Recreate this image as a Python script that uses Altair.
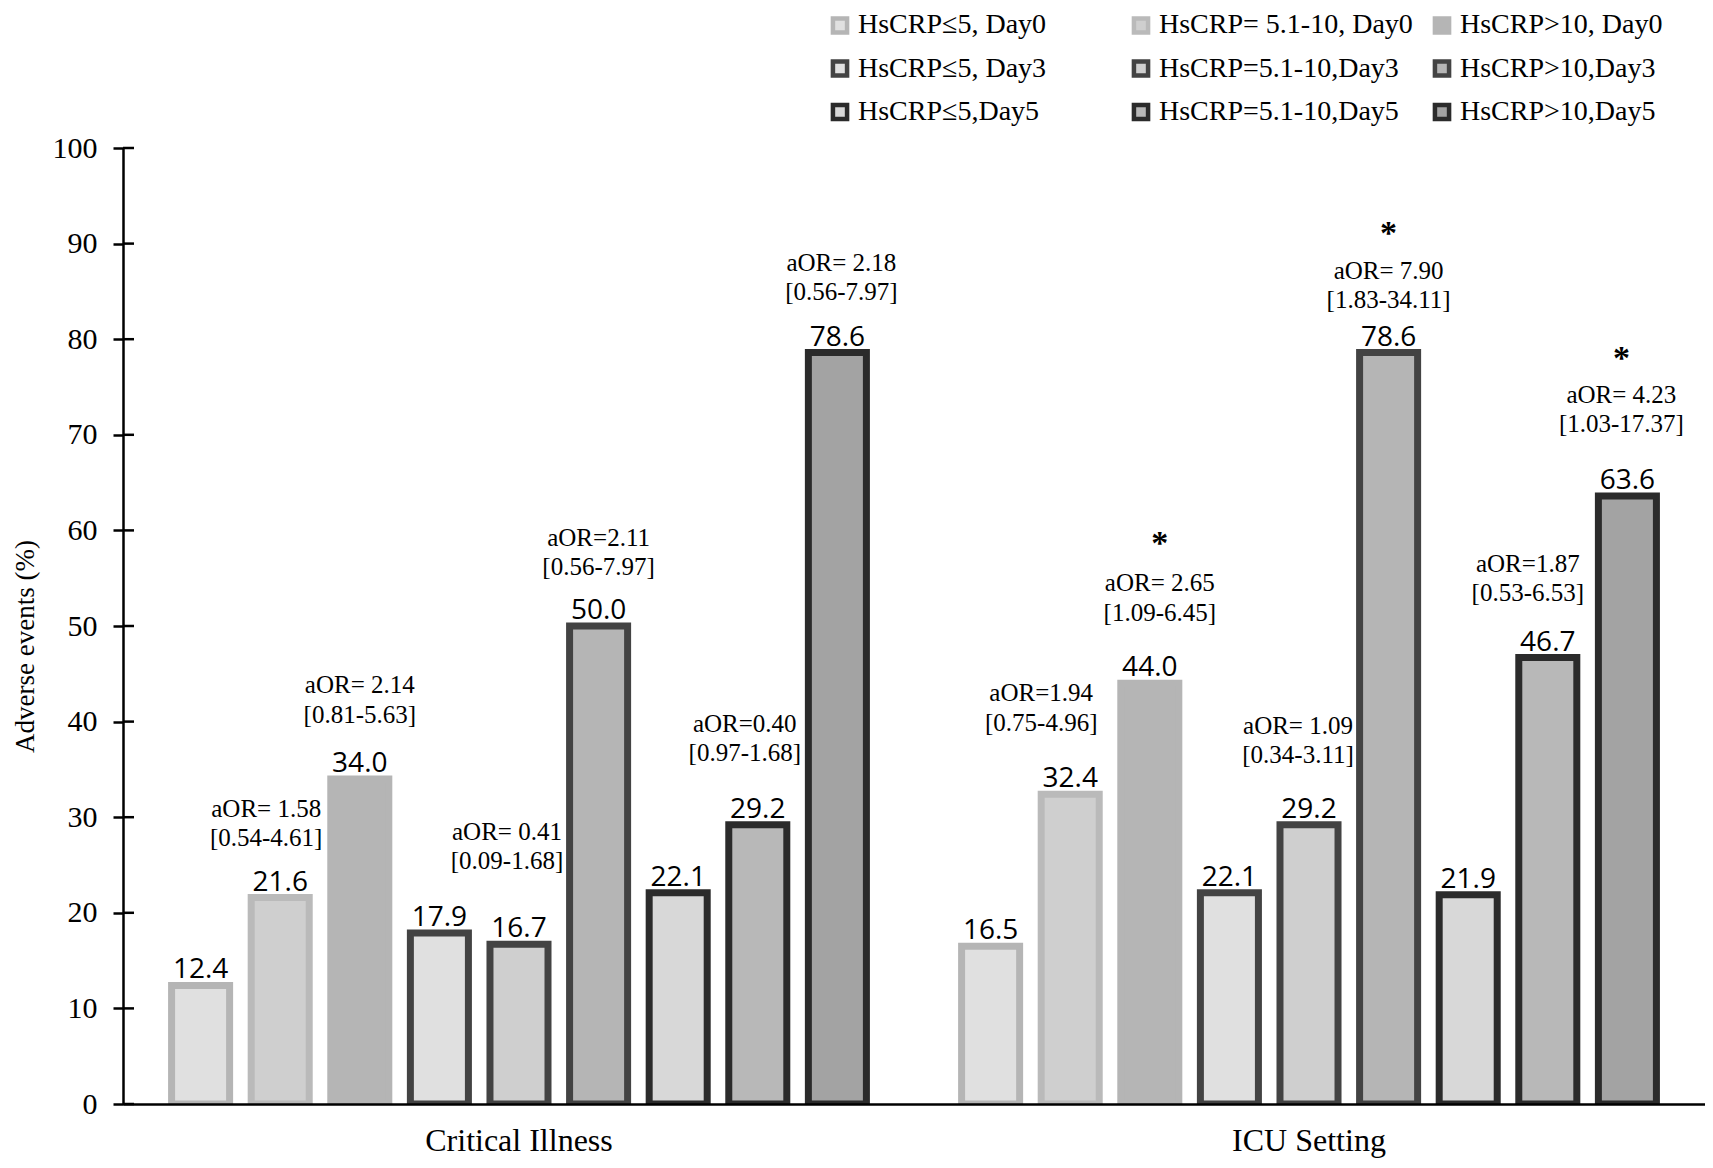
import altair as alt
import pandas as pd

# ---------------- data ----------------
groups = ["Critical Illness", "ICU Setting"]
series = ["HsCRP≤5, Day0", "HsCRP= 5.1-10, Day0", "HsCRP>10, Day0",
          "HsCRP≤5, Day3", "HsCRP=5.1-10,Day3", "HsCRP>10,Day3",
          "HsCRP≤5,Day5", "HsCRP=5.1-10,Day5", "HsCRP>10,Day5"]
critical_values = [12.4, 21.6, 34.0, 17.9, 16.7, 50.0, 22.1, 29.2, 78.6]
icu_values = [16.5, 32.4, 44.0, 22.1, 29.2, 78.6, 21.9, 46.7, 63.6]
y_ticks = [0, 10, 20, 30, 40, 50, 60, 70, 80, 90, 100]

# annotation texts (group, series index, text)
ann_group = ["Critical Illness"] * 12 + ["ICU Setting"] * 15
ann_series = [1, 1, 2, 2, 4, 4, 5, 5, 7, 7, 8, 8,
              1, 1, 2, 2, 2, 4, 4, 5, 5, 5, 7, 7, 8, 8, 8]
ann_text = ["aOR= 1.58", "[0.54-4.61]", "aOR= 2.14", "[0.81-5.63]",
            "aOR= 0.41", "[0.09-1.68]", "aOR=2.11", "[0.56-7.97]",
            "aOR=0.40", "[0.97-1.68]", "aOR= 2.18", "[0.56-7.97]",
            "aOR=1.94", "[0.75-4.96]", "*", "aOR= 2.65", "[1.09-6.45]",
            "aOR= 1.09", "[0.34-3.11]", "*", "aOR= 7.90", "[1.83-34.11]",
            "aOR=1.87", "[0.53-6.53]", "*", "aOR= 4.23", "[1.03-17.37]"]

# ---------------- layout / style (not data) ----------------
ann_y = [30.9, 27.8, 43.8, 40.7, 28.5, 25.4, 59.2, 56.2, 39.8, 36.7, 88.0, 84.9,
         43.0, 39.9, 58.6, 54.5, 51.4, 39.5, 36.5, 91.0, 87.1, 84.1, 56.5, 53.4,
         77.9, 74.2, 71.1]
ann_dx = [-14, -14, 0, 0, -12, -12, 0, 0, -13, -13, 4, 4,
          -29, -29, 10, 10, 10, -11, -11, 0, 0, 0, -20, -20, -6, -6, -6]
fills = ["#e0e0e0", "#cfcfcf", "#b5b5b5",
         "#e0e0e0", "#cfcfcf", "#b5b5b5",
         "#d8d8d8", "#b8b8b8", "#a3a3a3"]
strokes = ["#b5b5b5", "#bababa", "#b5b5b5",
           "#434343", "#434343", "#434343",
           "#2b2b2b", "#2b2b2b", "#2b2b2b"]
# legend is filled column by column: show Day0 / Day3 / Day5 as rows
legend_order = [series[i] for i in [0, 3, 6, 1, 4, 7, 2, 5, 8]]

SERIF = "Liberation Serif"
SANS = "Open Sans"
YTITLE = "Adverse events (%)"

rows = []
for g, vals in zip(groups, [critical_values, icu_values]):
    for s, v in zip(series, vals):
        rows.append({"group": g, "series": s, "value": v})
bars_df = pd.DataFrame(rows)

ann_df = pd.DataFrame({
    "group": ann_group,
    "series": [series[i] for i in ann_series],
    "text": ann_text,
    "y": ann_y,
    "dx": ann_dx,
})
tick_df = pd.DataFrame({"t": y_ticks})

x_enc = alt.X("group:N", sort=groups, title=None,
              scale=alt.Scale(paddingInner=0.1205, paddingOuter=0.0615),
              axis=alt.Axis(title=None, labelAngle=0, ticks=False, labelLimit=500,
                            labelFont=SERIF, labelFontSize=32, labelColor="black",
                            labelPadding=21, domainColor="black", domainWidth=2.5,
                            zindex=1))
xo_enc = alt.XOffset("series:N", sort=series,
                     scale=alt.Scale(paddingInner=0.271, paddingOuter=0))
y_scale = alt.Scale(domain=[0, 100], nice=False, zero=True)

legend_kw = dict(title=None, orient="none", legendX=703, legendY=-137,
                 columns=3, gridAlign="all", columnPadding=12, values=legend_order,
                 rowPadding=9.5, symbolType="square", symbolSize=200,
                 symbolStrokeWidth=4.5, labelFont=SERIF,
                 labelFontSize=28, labelColor="black", labelOffset=4,
                 labelLimit=400, padding=0)

bars = alt.Chart(bars_df).mark_bar(strokeWidth=7, clip=True, strokeJoin="miter").encode(
    x=x_enc,
    xOffset=xo_enc,
    y=alt.Y("value:Q", scale=y_scale, title=YTITLE,
            axis=alt.Axis(values=y_ticks, grid=False, title=YTITLE,
                          titleFont=SERIF, titleFontSize=27, titleFontWeight="normal",
                          titleColor="black", titleAngle=270, titleX=-98, titleY=498,
                          titleAlign="center", titleBaseline="middle",
                          labelFont=SERIF, labelFontSize=30, labelColor="black",
                          labelPadding=16, tickSize=10, tickWidth=2.5, tickColor="black",
                          domainColor="black", domainWidth=2.5, zindex=1)),
    fill=alt.Fill("series:N", sort=series,
                  scale=alt.Scale(domain=series, range=fills),
                  legend=alt.Legend(**legend_kw)),
    stroke=alt.Stroke("series:N", sort=series,
                      scale=alt.Scale(domain=series, range=strokes),
                      legend=alt.Legend(**legend_kw)),
)

value_labels = alt.Chart(bars_df).mark_text(
    font=SANS, fontSize=28, color="black", baseline="alphabetic", dy=-7
).encode(
    x=alt.X("group:N", sort=groups, title=None),
    xOffset=alt.XOffset("series:N", sort=series),
    y=alt.Y("value:Q", scale=y_scale, title=YTITLE),
    text=alt.Text("value:Q", format=".1f"),
)

ann_layers = []
for d in sorted(set(ann_dx)):
    base = alt.Chart(ann_df).transform_filter(f"datum.dx == {d}")
    ann_layers.append(
        base.transform_filter("datum.text != '*'").mark_text(
            font=SERIF, fontSize=25, color="black", baseline="middle",
            align="center", dx=d
        ).encode(
            x=alt.X("group:N", sort=groups, title=None),
            xOffset=alt.XOffset("series:N", sort=series),
            y=alt.Y("y:Q", scale=y_scale, title=YTITLE),
            text="text:N",
        )
    )
    ann_layers.append(
        base.transform_filter("datum.text == '*'").mark_text(
            font=SERIF, fontSize=34, fontWeight="bold", color="black",
            baseline="middle", align="center", dx=d
        ).encode(
            x=alt.X("group:N", sort=groups, title=None),
            xOffset=alt.XOffset("series:N", sort=series),
            y=alt.Y("y:Q", scale=y_scale, title=YTITLE),
            text="text:N",
        )
    )

inner_ticks = alt.Chart(tick_df).mark_rule(color="black", strokeWidth=2.5).encode(
    y=alt.Y("t:Q", scale=y_scale, title=YTITLE),
    x=alt.value(0),
    x2=alt.value(11),
)

chart = alt.layer(bars, value_labels, *ann_layers, inner_ticks).properties(
    width=1582, height=956,
    background="white",
    autosize=alt.AutoSizeParams(type="none"),
    padding={"left": 115, "top": 140, "right": 0, "bottom": 54},
).configure_view(stroke=None)

chart.save("out.html", embed_options={"renderer": "svg", "actions": False})
